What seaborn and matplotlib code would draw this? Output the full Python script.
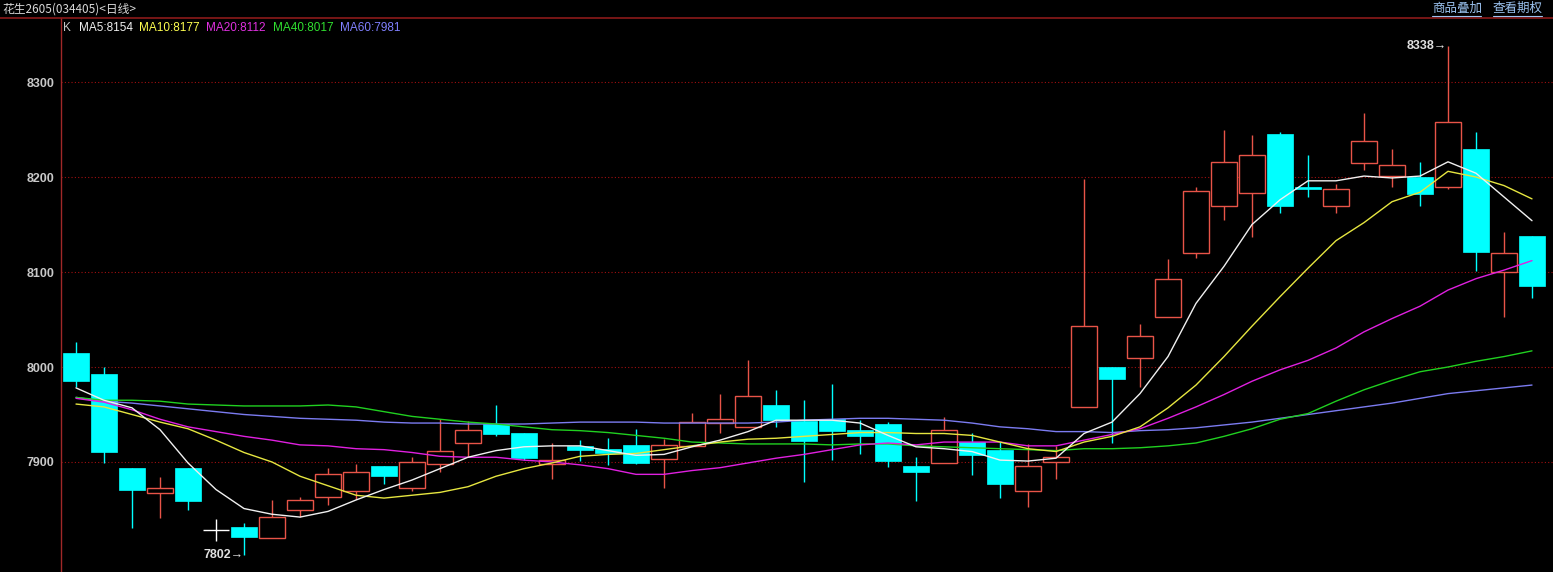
import matplotlib
matplotlib.use("Agg")
import matplotlib.pyplot as plt
from matplotlib.lines import Line2D
from matplotlib.patches import Rectangle
import pandas as pd
import seaborn as sns

# daily bars
opens = [8015, 7993, 7894, 7867, 7894, 7828, 7832, 7820, 7849, 7863, 7869, 7896, 7873, 7898,
         7920, 7940, 7930, 7898, 7917, 7914, 7918, 7903, 7917, 7941, 7937, 7960, 7943, 7945,
         7934, 7940, 7896, 7899, 7921, 7913, 7869, 7900, 7958, 8000, 8009, 8053, 8120, 8169,
         8183, 8245, 8190, 8169, 8215, 8201, 8200, 8189, 8230, 8100, 8138]
highs = [8026, 8000, 7894, 7884, 7894, 7840, 7836, 7860, 7863, 7894, 7898, 7896, 7905, 7945,
         7943, 7960, 7930, 7920, 7923, 7925, 7935, 7924, 7952, 7972, 8007, 7976, 7965, 7982,
         7944, 7942, 7905, 7947, 7931, 7921, 7919, 7917, 8198, 8000, 8045, 8114, 8189, 8250,
         8244, 8247, 8223, 8193, 8267, 8230, 8216, 8338, 8247, 8142, 8138]
lows = [7979, 7899, 7831, 7841, 7849, 7817, 7802, 7820, 7842, 7855, 7861, 7877, 7869, 7889,
        7905, 7927, 7902, 7882, 7901, 7897, 7898, 7873, 7917, 7931, 7937, 7937, 7879, 7902,
        7908, 7895, 7859, 7899, 7886, 7862, 7853, 7882, 7958, 7920, 7979, 8053, 8115, 8155,
        8137, 8162, 8179, 8162, 8207, 8189, 8169, 8187, 8101, 8053, 8073]
closes = [7985, 7911, 7871, 7873, 7859, 7828, 7821, 7842, 7860, 7887, 7889, 7885, 7900, 7912,
          7934, 7929, 7904, 7902, 7913, 7909, 7899, 7918, 7942, 7945, 7970, 7944, 7922, 7933,
          7927, 7901, 7889, 7934, 7907, 7877, 7896, 7905, 8043, 7987, 8033, 8093, 8185, 8216,
          8223, 8169, 8187, 8187, 8238, 8213, 8182, 8258, 8121, 8120, 8085]

# moving average lines as drawn by the terminal
ma5 = [7978, 7965, 7957, 7934, 7899, 7871, 7851, 7845, 7842, 7848, 7860, 7871, 7881, 7893,
       7905, 7912, 7916, 7917, 7917, 7912, 7907, 7908, 7916, 7923, 7932, 7944, 7944, 7944,
       7941, 7928, 7916, 7914, 7911, 7902, 7901, 7904, 7930, 7942, 7972, 8011, 8067, 8106,
       8150, 8176, 8196, 8196, 8201, 8199, 8201, 8216, 8204, 8179, 8154]
ma10 = [7961, 7958, 7950, 7942, 7935, 7923, 7910, 7900, 7885, 7875, 7865, 7862, 7865, 7868,
        7874, 7885, 7893, 7899, 7906, 7908, 7909, 7913, 7917, 7921, 7924, 7925, 7927, 7929,
        7931, 7931, 7930, 7930, 7928, 7921, 7914, 7911, 7921, 7927, 7937, 7957, 7981, 8011,
        8043, 8074, 8104, 8133, 8152, 8174, 8184, 8206, 8200, 8191, 8177]
ma20 = [7967, 7963, 7955, 7945, 7937, 7932, 7927, 7923, 7918, 7917, 7914, 7913, 7910, 7906,
        7905, 7905, 7902, 7900, 7897, 7893, 7887, 7887, 7891, 7894, 7899, 7904, 7908, 7913,
        7918, 7920, 7918, 7921, 7921, 7921, 7917, 7917, 7923, 7929, 7935, 7946, 7958, 7971,
        7985, 7997, 8007, 8020, 8037, 8051, 8064, 8081, 8093, 8102, 8112]
ma40 = [7968, 7965, 7965, 7964, 7961, 7960, 7959, 7959, 7959, 7960, 7958, 7953, 7948, 7945,
        7942, 7940, 7937, 7934, 7933, 7931, 7928, 7925, 7921, 7920, 7919, 7919, 7919, 7918,
        7919, 7919, 7917, 7916, 7915, 7914, 7913, 7912, 7914, 7914, 7915, 7917, 7920, 7927,
        7935, 7945, 7951, 7964, 7976, 7986, 7995, 8000, 8006, 8011, 8017]
ma60 = [7968, 7964, 7962, 7959, 7956, 7953, 7950, 7948, 7946, 7945, 7944, 7942, 7941, 7941,
        7940, 7940, 7940, 7941, 7942, 7942, 7942, 7941, 7941, 7941, 7941, 7942, 7944, 7945,
        7946, 7946, 7945, 7944, 7941, 7937, 7935, 7932, 7932, 7931, 7933, 7934, 7936, 7939,
        7942, 7946, 7950, 7954, 7958, 7962, 7967, 7972, 7975, 7978, 7981]

ma_names = ["MA5", "MA10", "MA20", "MA40", "MA60"]
ma_labels = ["MA5:8154", "MA10:8177", "MA20:8112", "MA40:8017", "MA60:7981"]
y_ticks = [7900, 8000, 8100, 8200, 8300]

title = "花生2605(034405)<日线>"
links = ["商品叠加", "查看期权"]

bg = "black"
red = "#e85448"
cyan = "#00ffff"
ma_colors = {"MA5": "#f0f0f0", "MA10": "#e6e640", "MA20": "#e020e0", "MA40": "#20d020", "MA60": "#7b7bf0"}
label_colors = ["#f0f0f0", "#ffff50", "#e030e0", "#30e030", "#8080ff"]

sns.set_style("dark", rc={"axes.facecolor": bg, "figure.facecolor": bg, "axes.grid": False})
plt.rcParams['font.family'] = ['Noto Sans CJK SC', 'DejaVu Sans']

W, H = 1553, 572
fig = plt.figure(figsize=(W / 100, H / 100), dpi=100)
ax = fig.add_axes([61 / W, 0, 1 - 61 / W, 1 - 18 / H])
ax.set_facecolor(bg)

n = len(opens)
body_w = 0.9
for i in range(n):
    o, h, l, c = opens[i], highs[i], lows[i], closes[i]
    if c > o:
        ax.vlines(i, c, h, color=red, lw=1, zorder=2)
        ax.vlines(i, l, o, color=red, lw=1, zorder=2)
        ax.add_patch(Rectangle((i - body_w / 2, o), body_w, c - o, facecolor=bg,
                               edgecolor=red, lw=1, zorder=2))
    elif c < o:
        ax.vlines(i, l, h, color=cyan, lw=1, zorder=2)
        ax.add_patch(Rectangle((i - body_w / 2, c), body_w, o - c, facecolor=cyan,
                               edgecolor=cyan, lw=0.5, zorder=2))
    else:
        ax.vlines(i, l, h, color="white", lw=1, zorder=2)
        ax.hlines(o, i - body_w / 2, i + body_w / 2, color="white", lw=1, zorder=2)

# moving averages through seaborn
ma_df = pd.DataFrame({"idx": range(n), "MA5": ma5, "MA10": ma10, "MA20": ma20,
                      "MA40": ma40, "MA60": ma60})
long_df = ma_df.melt(id_vars="idx", var_name="ma", value_name="price")
sns.lineplot(data=long_df, x="idx", y="price", hue="ma", hue_order=ma_names[::-1],
             palette=ma_colors, linewidth=1, legend=False, ax=ax, zorder=3)

ax.set_xlim(-0.536, 52.75)
ax.set_ylim(7784.2, 8367.4)
ax.set(xlabel="", ylabel="")
ax.set_xticks([])
ax.set_yticks(y_ticks)
ax.set_yticklabels([str(t) for t in y_ticks], color="#c8c8c8", fontsize=9,
                   fontweight="bold", family="Liberation Sans")
ax.tick_params(axis="y", length=0, pad=5)
for t in y_ticks:
    ax.axhline(t, color="#a01010", lw=0.8, ls=(0, (1, 2)), zorder=1)
for s in ["top", "right", "bottom"]:
    ax.spines[s].set_visible(False)
ax.spines["left"].set_color("#a02828")
ax.spines["left"].set_linewidth(1)

# extreme markers
ax.text(49 - 0.03, 8338, "8338→", ha="right", va="center", color="#e0e0e0",
        fontsize=9, fontweight="bold", family="Liberation Sans")
ax.text(6 - 0.03, 7802, "7802→", ha="right", va="center", color="#e0e0e0",
        fontsize=9, fontweight="bold", family="Liberation Sans")

# header row
fig.add_artist(Line2D([0, 1], [1 - 18 / H, 1 - 18 / H], color="#8b1a1a", lw=1.2))
fig.text(2 / W, 1 - 9 / H, title, color="#d8d8d8", fontsize=8.5, va="center", ha="left",
         family=["Noto Sans CJK SC", "DejaVu Sans"])
link_x = [1432, 1493]
for lx, txt in zip(link_x, links):
    fig.text(lx / W, 1 - 8 / H, txt, color="#9cc3f0", fontsize=9, va="center", ha="left")
    fig.add_artist(Line2D([lx / W, (lx + 49) / W], [1 - 15.5 / H, 1 - 15.5 / H],
                          color="#9cc3f0", lw=0.8))

# legend row
fig.text(63 / W, 1 - 28 / H, "K", color="#c8c8c8", fontsize=8.5, va="center",
         family="Liberation Sans")
legend_x = [79, 139, 206, 273, 340]
for lx, txt, col in zip(legend_x, ma_labels, label_colors):
    fig.text(lx / W, 1 - 28 / H, txt, color=col, fontsize=8.5, va="center",
             family="Liberation Sans")

fig.savefig("out.png", dpi=100, facecolor=bg)
